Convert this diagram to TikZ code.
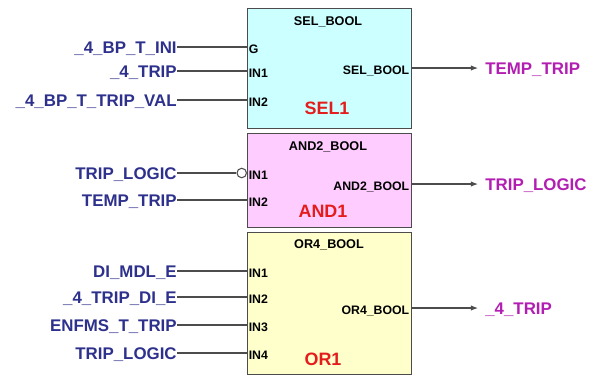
\documentclass[tikz,border=0pt]{standalone}
\usepackage{fontspec}
\setmainfont{Liberation Sans}
\usetikzlibrary{positioning,arrows.meta}
\definecolor{sigblue}{RGB}{46,49,140}
\definecolor{sigmag}{RGB}{178,30,178}
\definecolor{instred}{RGB}{228,28,28}
\definecolor{selfill}{RGB}{204,255,255}
\definecolor{andfill}{RGB}{255,204,255}
\definecolor{orfill}{RGB}{255,255,204}

\begin{document}
\begin{tikzpicture}[
  x=0.02cm, y=-0.02cm,
  font=\bfseries,
  fb/.style={draw=black!70, line width=0.6pt, anchor=north west, minimum width=3.28cm, inner sep=0pt},
  title/.style={font=\bfseries\fontsize{7.2}{8}\selectfont},
  pinlbl/.style={font=\bfseries\fontsize{7}{8}\selectfont, inner xsep=0.8pt, inner ysep=0pt, text height=1.4ex, text depth=0pt},
  inlbl/.style={text=sigblue, font=\bfseries\fontsize{9.6}{11}\selectfont, anchor=east, inner sep=0pt, text height=1.4ex, text depth=0pt},
  outlbl/.style={text=sigmag, font=\bfseries\fontsize{9.6}{11}\selectfont, inner xsep=0.14cm, inner ysep=0pt, text height=1.4ex, text depth=0pt},
  inst/.style={text=instred, font=\bfseries\fontsize{10.2}{12}\selectfont},
  wire/.style={draw=black!70, line width=0.6pt},
  outwire/.style={wire, -{Latex[length=4pt,width=3pt]}}
]
\useasboundingbox (0,0) rectangle (597,376);

\node[fb, fill=selfill, minimum height=2.4cm] (sel) at (247,8) {};
\node[fb, fill=andfill, minimum height=1.88cm] (and) at (247,133) {};
\node[fb, fill=orfill, minimum height=2.84cm] (or) at (247,232) {};

\node[title] (sel-t) at (328,22) {SEL\_BOOL};
\node[title] (and-t) at (328,147) {AND2\_BOOL};
\node[title] (or-t) at (329,245) {OR4\_BOOL};

\node[inst] (sel-n) at (327,108) {SEL1};
\node[inst] (and-n) at (323,211) {AND1};
\node[inst] (or-n) at (323,359) {OR1};

\coordinate (sel-g) at (247,47);
\coordinate (sel-in1) at (247,71);
\coordinate (sel-in2) at (247,100);
\coordinate (sel-o) at (411,68);
\node[pinlbl, anchor=west] (sel-g-l) at (sel-g) {G};
\node[pinlbl, anchor=west] (sel-in1-l) at (sel-in1) {IN1};
\node[pinlbl, anchor=west] (sel-in2-l) at (sel-in2) {IN2};
\node[pinlbl, anchor=east] (sel-o-l) at (sel-o) {SEL\_BOOL};

\coordinate (and-in1) at (247,173);
\coordinate (and-in2) at (247,200);
\coordinate (and-o) at (411,184);
\node[pinlbl, anchor=west] (and-in1-l) at (and-in1) {IN1};
\node[pinlbl, anchor=west] (and-in2-l) at (and-in2) {IN2};
\node[pinlbl, anchor=east] (and-o-l) at (and-o) {AND2\_BOOL};
\node[wire, fill=white, circle, inner sep=0pt, minimum size=0.19cm, anchor=east] (neg) at (and-in1) {};

\coordinate (or-in1) at (247,271);
\coordinate (or-in2) at (247,297);
\coordinate (or-in3) at (247,325);
\coordinate (or-in4) at (247,353);
\coordinate (or-o) at (411,308);
\node[pinlbl, anchor=west] (or-in1-l) at (or-in1) {IN1};
\node[pinlbl, anchor=west] (or-in2-l) at (or-in2) {IN2};
\node[pinlbl, anchor=west] (or-in3-l) at (or-in3) {IN3};
\node[pinlbl, anchor=west] (or-in4-l) at (or-in4) {IN4};
\node[pinlbl, anchor=east] (or-o-l) at (or-o) {OR4\_BOOL};

\node[inlbl] (bpini) at (177,47) {\_4\_BP\_T\_INI};
\node[inlbl] (trip) at (177,71) {\_4\_TRIP};
\node[inlbl] (tripval) at (177,100) {\_4\_BP\_T\_TRIP\_VAL};
\node[inlbl] (logic-a) at (177,173) {TRIP\_LOGIC};
\node[inlbl] (temp-a) at (177,200) {TEMP\_TRIP};
\node[inlbl] (mdl) at (177,271) {DI\_MDL\_E};
\node[inlbl] (tripdi) at (177,297) {\_4\_TRIP\_DI\_E};
\node[inlbl] (enfms) at (177,325) {ENFMS\_T\_TRIP};
\node[inlbl] (logic-b) at (177,353) {TRIP\_LOGIC};

\node[outlbl, right=1.34cm of sel-o] (temp-out) {TEMP\_TRIP};
\node[outlbl, right=1.34cm of and-o] (logic-out) {TRIP\_LOGIC};
\node[outlbl, right=1.34cm of or-o] (trip-out) {\_4\_TRIP};

\draw[wire] (bpini.east) -- (sel-g);
\draw[wire] (trip.east) -- (sel-in1);
\draw[wire] (tripval.east) -- (sel-in2);
\draw[wire] (logic-a.east) -- (neg.west);
\draw[wire] (temp-a.east) -- (and-in2);
\draw[wire] (mdl.east) -- (or-in1);
\draw[wire] (tripdi.east) -- (or-in2);
\draw[wire] (enfms.east) -- (or-in3);
\draw[wire] (logic-b.east) -- (or-in4);

\draw[outwire] (sel-o) -- (temp-out.west);
\draw[outwire] (and-o) -- (logic-out.west);
\draw[outwire] (or-o) -- (trip-out.west);
\end{tikzpicture}
\end{document}
